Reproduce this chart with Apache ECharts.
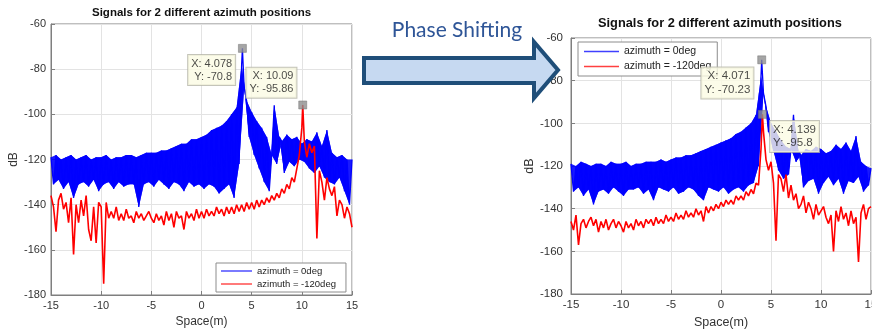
<!DOCTYPE html>
<html><head><meta charset="utf-8">
<script src="https://cdn.jsdelivr.net/npm/echarts@6/dist/echarts.min.js"></script>
<style>html,body{margin:0;padding:0;background:#fff}#c{width:872px;height:333px}</style>
</head><body><div id="c"></div>
<script>
// ---- data ----
const xMin = -15, xStep = 0.25;        // sampling grid of the traces (m)
const seriesNames = ['azimuth = 0deg', 'azimuth = -120deg'];
const titleText = 'Signals for 2 different azimuth positions';
const xName = 'Space(m)', yName = 'dB';
const arrowText = 'Phase Shifting';

// left plot, azimuth = 0deg (dB), x = -15 .. 15 step 0.25
const leftBlue = [
-119,-131,-118,-129, -120,-133,-119,-130, -118,-137,-120,-131, -119,-130,-118,-132,
-120,-129,-119,-134, -119,-131,-118,-130, -120,-133,-119,-130, -119,-132,-118,-131,
-118,-131,-119,-141, -118,-131,-117,-130, -117,-132,-117,-129, -116,-131,-116,-133,
-115,-130,-114,-131, -113,-134,-113,-130, -111,-132,-111,-131, -110,-133,-109,-131,
-107,-132,-106,-135, -105,-133,-103,-131, -100,-137,-97,-122,  -78,-88,-94,-110,
-99,-118,-103,-124,  -106,-130,-110,-134, -118,-96,-122,-110,  -112,-126,-109,-121,
-111,-123,-110,-120, -113,-121,-111,-124, -112,-126,-108,-123, -114,-128,-107,-130,
-117,-131,-119,-128, -118,-134,-120,-140, -120
];
// left plot, azimuth = -120deg
const leftRed = [
-136,-141,-152,-138, -135,-142,-139,-148, -137,-162,-140,-148, -138,-145,-136,-151,
-156,-141,-157,-139, -141,-175,-139,-146, -143,-146,-141,-147, -144,-147,-142,-146,
-145,-148,-143,-146, -144,-147,-145,-143, -146,-148,-144,-147, -145,-149,-143,-147,
-144,-150,-143,-146, -145,-151,-143,-146, -144,-147,-142,-146, -143,-146,-142,-145,
-143,-145,-141,-144, -142,-145,-141,-144, -141,-144,-140,-143, -140,-143,-139,-142,
-139,-142,-138,-141, -138,-140,-137,-139, -136,-138,-135,-137, -133,-135,-131,-133,
-128,-130,-124,-118, -106,-112,-119,-113, -117,-114,-155,-125, -130,-138,-128,-133,
-136,-132,-145,-138, -140,-146,-141,-144, -150
];
// right plot, azimuth = 0deg
const rightBlue = [
-119,-132,-120,-130, -118,-134,-119,-131, -120,-138,-119,-132, -119,-131,-120,-133,
-118,-130,-119,-132, -119,-134,-118,-131, -120,-131,-119,-130, -119,-133,-118,-131,
-118,-136,-118,-130, -117,-131,-118,-132, -117,-130,-116,-133, -116,-132,-115,-130,
-115,-131,-114,-134, -113,-136,-112,-130, -111,-131,-110,-132, -109,-130,-108,-133,
-107,-131,-105,-130, -104,-132,-102,-129, -100,-128,-96,-120,  -78,-86,-92,-104,
-100,-113,-104,-122, -108,-126,-111,-124, -112,-96,-118,-113,  -115,-130,-112,-127,
-113,-126,-111,-133, -112,-128,-114,-125, -113,-129,-110,-126, -112,-133,-109,-127,
-113,-128,-106,-125, -118,-132,-120,-129, -121
];
// right plot, azimuth = -120deg
const rightRed = [
-146,-150,-143,-157, -147,-145,-149,-146, -144,-148,-145,-151, -146,-149,-145,-150,
-147,-145,-149,-146, -148,-151,-146,-149, -147,-150,-145,-148, -146,-149,-145,-147,
-145,-148,-144,-147, -145,-147,-143,-146, -144,-146,-142,-145, -143,-145,-141,-144,
-142,-144,-140,-143, -141,-146,-139,-142, -139,-141,-138,-140, -137,-139,-136,-138,
-136,-138,-134,-136, -134,-136,-132,-134, -131,-133,-128,-129, -112,-104,-117,-122,
-118,-128,-155,-124, -126,-132,-124,-135, -129,-136,-133,-140, -138,-134,-142,-137,
-140,-145,-138,-143, -141,-139,-144,-147, -143,-160,-141,-146, -139,-145,-142,-148,
-141,-147,-144,-165, -142,-138,-145,-140, -139
];
// data tips [x, y]
const leftTipX = [4.078, 10.09], leftTipY = [-70.8, -95.86];
const rightTipX = [4.071, 4.139], rightTipY = [-70.23, -95.8];

// ---- styles ----
const FONT = 'Liberation Sans';
const COLORS = ['#0000ff', '#ff0000'];
const tipLabelStyles = [
  [{ position: [-3, 11], align: 'right', verticalAlign: 'top' }, { position: [-2, -3], align: 'right', verticalAlign: 'bottom' }],
  [{ position: [-4, 12], align: 'right', verticalAlign: 'top' }, { position: [12, 11], align: 'left', verticalAlign: 'top' }]
];

function trace(vals, tipX, tipY) {
  const pts = vals.map((v, i) => [xMin + i * xStep, v]);
  pts.push([tipX, tipY]);
  pts.sort((a, b) => a[0] - b[0]);
  return pts;
}
// groups of four consecutive samples; the dense oscillation is filled between them
function bandItems(vals) {
  const out = [];
  for (let i = 0; i + 3 < vals.length; i++) {
    const it = [];
    for (let k = 0; k < 4; k++) it.push(xMin + (i + k) * xStep, vals[i + k]);
    out.push(it);
  }
  return out;
}

function axes(gi, fs, ym) {
  const common = {
    gridIndex: gi, type: 'value',
    axisLine: { show: true, onZero: false, lineStyle: { color: '#7f7f7f', width: 1 } },
    axisTick: { show: true, inside: true, length: 4, lineStyle: { color: '#7f7f7f' } },
    splitLine: { show: true, lineStyle: { color: '#e3e3e3', width: 1 } },
    axisLabel: { color: '#333', fontSize: fs, fontFamily: FONT },
    nameTextStyle: { color: '#333', fontSize: fs + 1, fontFamily: FONT }
  };
  return {
    x: Object.assign({}, common, { min: -15, max: 15, interval: 5, name: xName, nameLocation: 'middle', nameGap: 20,
      axisLabel: Object.assign({}, common.axisLabel, { margin: 5, showMaxLabel: true, showMinLabel: true }) }),
    y: Object.assign({}, common, { min: -180, max: -60, interval: 20, name: yName, nameLocation: 'middle', nameGap: gi === 0 ? 31 : 34, nameRotate: 90,
      axisLabel: Object.assign({}, common.axisLabel, { margin: ym, showMaxLabel: true, showMinLabel: true }) })
  };
}
const a0 = axes(0, 11, 5), a1 = axes(1, 11.5, 8);

function lineSeries(ci, gi, data, w) {
  const color = COLORS[ci];
  return { type: 'line', name: seriesNames[ci], xAxisIndex: gi, yAxisIndex: gi, data, showSymbol: false, symbol: 'none',
    lineStyle: { color, width: w, join: 'bevel' }, itemStyle: { color }, animation: false, z: 2 + ci };
}
function bandSeries(ci, gi, vals, z) {
  const color = COLORS[ci];
  return { type: 'custom', name: 'band' + gi + ci, xAxisIndex: gi, yAxisIndex: gi, clip: true, animation: false, z,
    data: bandItems(vals), encode: { x: [0, 2, 4, 6], y: [1, 3, 5, 7] }, silent: true,
    renderItem: (params, api) => {
      const p = [0, 1, 2, 3].map(k => api.coord([api.value(2 * k), api.value(2 * k + 1)]));
      return { type: 'polygon', shape: { points: [p[0], p[2], p[3], p[1]] }, style: { fill: color, opacity: 0.9 } };
    } };
}
function tipSeries(gi, xs, ys, fs) {
  return { type: 'scatter', name: 'tips' + gi, xAxisIndex: gi, yAxisIndex: gi, symbol: 'rect', symbolSize: 8, z: 10, animation: false,
    itemStyle: { color: '#8f8f8f', borderColor: '#6f6f6f', borderWidth: 0.6 },
    data: xs.map((x, i) => ({ value: [x, ys[i]], label: tipLabelStyles[gi][i] })),
    label: { show: true, formatter: p => 'X: ' + p.value[0] + '\nY: ' + p.value[1],
      backgroundColor: '#fbfbe4', borderColor: '#b5b5a8', borderWidth: 1, padding: [2, 3, 2, 3],
      fontSize: fs, lineHeight: fs + 2, color: '#1a1a1a', fontFamily: FONT }
  };
}
const legendData = seriesNames.map((n, i) => ({ name: n, icon: 'rect',
  itemStyle: { color: COLORS[i], borderColor: COLORS[i], borderWidth: 0, opacity: 0.75 }, lineStyle: { color: COLORS[i] } }));

const chart = echarts.init(document.getElementById('c'), null, { renderer: 'canvas' });
chart.setOption({
  animation: false,
  backgroundColor: '#fff',
  title: [
    { text: titleText, left: 92, top: 7, padding: 0, textStyle: { fontSize: 11.5, fontWeight: 'bold', color: '#111', fontFamily: FONT } },
    { text: titleText, left: 598, top: 17, padding: 0, textStyle: { fontSize: 12.8, fontWeight: 'bold', color: '#111', fontFamily: FONT } }
  ],
  grid: [
    { left: 51, top: 24, width: 301, height: 271, show: true, borderColor: '#7f7f7f', borderWidth: 1, backgroundColor: 'transparent', outerBoundsMode: 'none', containLabel: false },
    { left: 571, top: 38, width: 300, height: 256, show: true, borderColor: '#7f7f7f', borderWidth: 1, backgroundColor: 'transparent', outerBoundsMode: 'none', containLabel: false }
  ],
  xAxis: [a0.x, a1.x],
  yAxis: [a0.y, a1.y],
  legend: [
    { data: legendData, left: 216, top: 263, orient: 'vertical', backgroundColor: '#fff', borderColor: '#8c8c8c', borderWidth: 1,
      padding: [3, 10, 3, 5], itemGap: 3, itemWidth: 31, itemHeight: 1.4, textStyle: { fontSize: 9.5, color: '#222', fontFamily: FONT } },
    { data: legendData, left: 578, top: 42, orient: 'vertical', backgroundColor: '#fff', borderColor: '#8c8c8c', borderWidth: 1,
      padding: [4, 6, 4, 6], itemGap: 4, itemWidth: 35, itemHeight: 1.4, textStyle: { fontSize: 10.5, color: '#222', fontFamily: FONT } }
  ],
  graphic: [
    { type: 'polygon', z: 100,
      shape: { points: [[364, 58], [534, 58], [534, 42], [558, 70], [534, 98], [534, 83], [364, 83]] },
      style: { fill: '#c6d9f1', stroke: '#1f4e79', lineWidth: 4, lineJoin: 'miter' } },
    { type: 'text', z: 100, x: 457, y: 30,
      style: { text: arrowText, fill: '#2e5597', font: '21px Lato', textAlign: 'center', textVerticalAlign: 'middle' } }
  ],
  series: [
    bandSeries(0, 0, leftBlue, 1),
    lineSeries(0, 0, trace(leftBlue, leftTipX[0], leftTipY[0]), 1.3),
    lineSeries(1, 0, trace(leftRed, leftTipX[1], leftTipY[1]), 1.6),
    bandSeries(0, 1, rightBlue, 1),
    lineSeries(0, 1, trace(rightBlue, rightTipX[0], rightTipY[0]), 1.3),
    lineSeries(1, 1, trace(rightRed, rightTipX[1], rightTipY[1]), 1.6),
    tipSeries(0, leftTipX, leftTipY, 11),
    tipSeries(1, rightTipX, rightTipY, 11.5)
  ]
});
</script></body></html>
